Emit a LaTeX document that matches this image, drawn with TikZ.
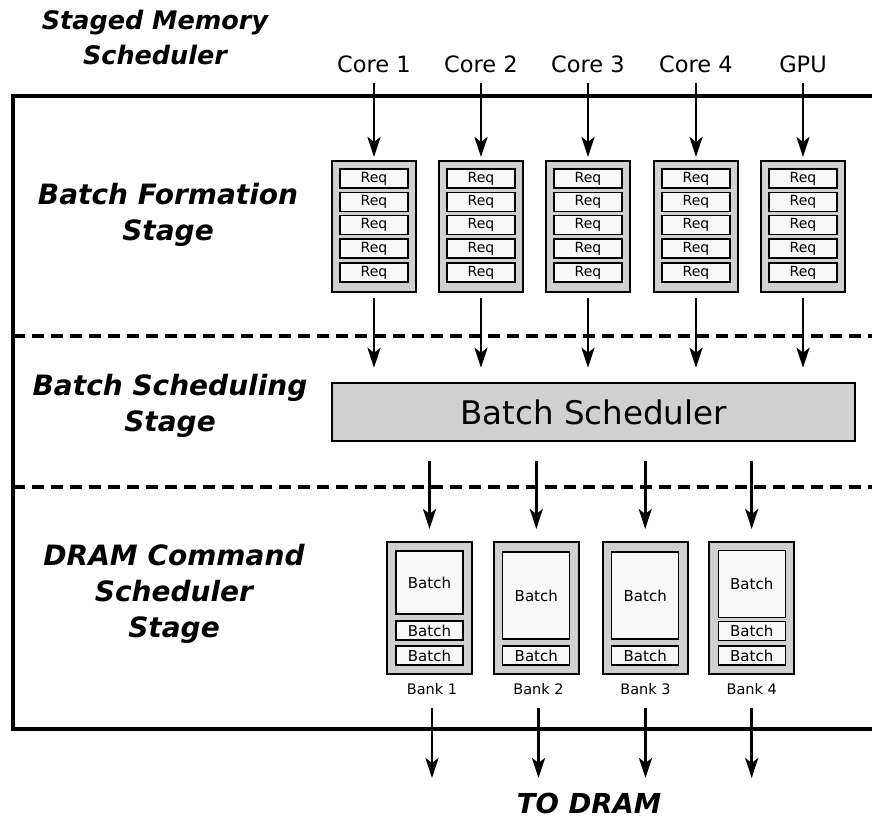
\documentclass[tikz,border=0pt]{standalone}
\usepackage{fontspec}
\setmainfont{DejaVu Sans}
\usetikzlibrary{arrows.meta}
\definecolor{boxgray}{HTML}{D0D0D0}
\definecolor{innerfill}{HTML}{F8F8F8}
\begin{document}
\begin{tikzpicture}[x=1pt,y=-1pt,
  titlelbl/.style={font=\fontsize{25.5}{35}\selectfont\bfseries\itshape, align=center, inner sep=0},
  stagelbl/.style={font=\fontsize{28}{36}\selectfont\bfseries\itshape, align=center, inner sep=0},
  corelbl/.style={font=\fontsize{22.5}{27}\selectfont, inner sep=0, anchor=base},
  colbox/.style={draw, line width=2pt, fill=boxgray, minimum width=84pt, minimum height=131pt, inner sep=0},
  reqbox/.style={draw, line width=1.1pt, fill=innerfill, minimum width=68pt, minimum height=19pt, inner sep=0, font=\fontsize{14}{15}\selectfont},
  bankbox/.style={draw, line width=2pt, fill=boxgray, minimum width=85pt, minimum height=132pt, inner sep=0},
  batchbox/.style={draw, line width=1.1pt, fill=innerfill, minimum width=67pt, inner sep=0, font=\fontsize{15}{16}\selectfont},
  banklbl/.style={font=\fontsize{14.5}{16}\selectfont, inner sep=0, anchor=base},
  arr/.style={line width=2.7pt, -{Stealth[length=20pt,width=13pt,inset=5pt]}},
  frameline/.style={line width=4pt, line join=miter},
  sepline/.style={line width=3.5pt, dash pattern=on 12pt off 7pt}
]
\useasboundingbox (0,0) rectangle (872,818);

% frame
\draw[frameline] (872,96) -- (13,96) -- (13,729) -- (872,729);
\draw[sepline] (13,336) -- (872,336);
\draw[sepline] (13,487) -- (872,487);

% labels on the left
\node[titlelbl] (title) at (155,37) {Staged Memory\\Scheduler};
\node[stagelbl] (sform) at (168,214.5) {Batch Formation\\Stage};
\node[stagelbl] (ssched) at (170,405.5) {Batch Scheduling\\Stage};
\node[stagelbl] (sdram) at (174,593.5) {DRAM Command\\Scheduler\\Stage};

% cores and request queues
\foreach \i/\x/\t in {1/374/Core 1, 2/481/Core 2, 3/588/Core 3, 4/696/Core 4, 5/803/GPU} {
  \node[corelbl] (core\i) at (\x,73) {\t};
  \node[colbox] (c\i) at (\x,226.5) {};
  \foreach \j/\y in {1/178.5, 2/201.8, 3/225.2, 4/248.5, 5/272.5} {
    \node[reqbox] (r\i\j) at (\x,\y) {Req};
  }
}

% batch scheduler
\node[draw, line width=2.5pt, fill=boxgray, minimum width=523pt, minimum height=58pt, inner sep=0,
      font=\fontsize{32.5}{36}\selectfont] (sched) at (593.5,412) {Batch Scheduler};

% banks
\node[bankbox] (bank1) at (429.5,608) {};
\node[batchbox, minimum height=63pt] (b11) at (429.5,582.5) {Batch};
\node[batchbox, minimum height=19pt] (b12) at (429.5,630.5) {Batch};
\node[batchbox, minimum height=19pt] (b13) at (429.5,655.5) {Batch};

\node[bankbox] (bank2) at (536.3,608) {};
\node[batchbox, minimum height=87pt] (b21) at (536.3,595.5) {Batch};
\node[batchbox, minimum height=19pt] (b22) at (536.3,655.5) {Batch};

\node[bankbox] (bank3) at (645.2,608) {};
\node[batchbox, minimum height=87pt] (b31) at (645.2,595.5) {Batch};
\node[batchbox, minimum height=19pt] (b32) at (645.2,655.5) {Batch};

\node[bankbox] (bank4) at (751.7,608) {};
\node[batchbox, minimum height=67pt] (b41) at (751.7,583.7) {Batch};
\node[batchbox, minimum height=19pt] (b42) at (751.7,631) {Batch};
\node[batchbox, minimum height=19pt] (b43) at (751.7,655.5) {Batch};

\foreach \i/\x in {1/432, 2/538.5, 3/645.5, 4/751.7} {
  \node[banklbl] (blab\i) at (\x,694) {Bank \i};
  \coordinate (out\i) at (\x,778);
  \draw[arr, shorten <=14pt] (blab\i.south) -- (out\i);
}

% arrows
\foreach \i in {1,...,5} {
  \draw[arr, shorten <=9pt, shorten >=3pt] (core\i.south) -- (c\i.north);
  \draw[arr, shorten <=5pt, shorten >=14pt] (c\i.south) -- (c\i.south |- sched.north);
}
\foreach \i in {1,...,4} {
  \draw[arr, shorten <=19pt, shorten >=12pt] (bank\i.north |- sched.south) -- (bank\i.north);
}

\node[font=\fontsize{27.5}{30}\selectfont\bfseries\itshape, inner sep=0] (todram) at (589,803) {TO DRAM};
\end{tikzpicture}
\end{document}
